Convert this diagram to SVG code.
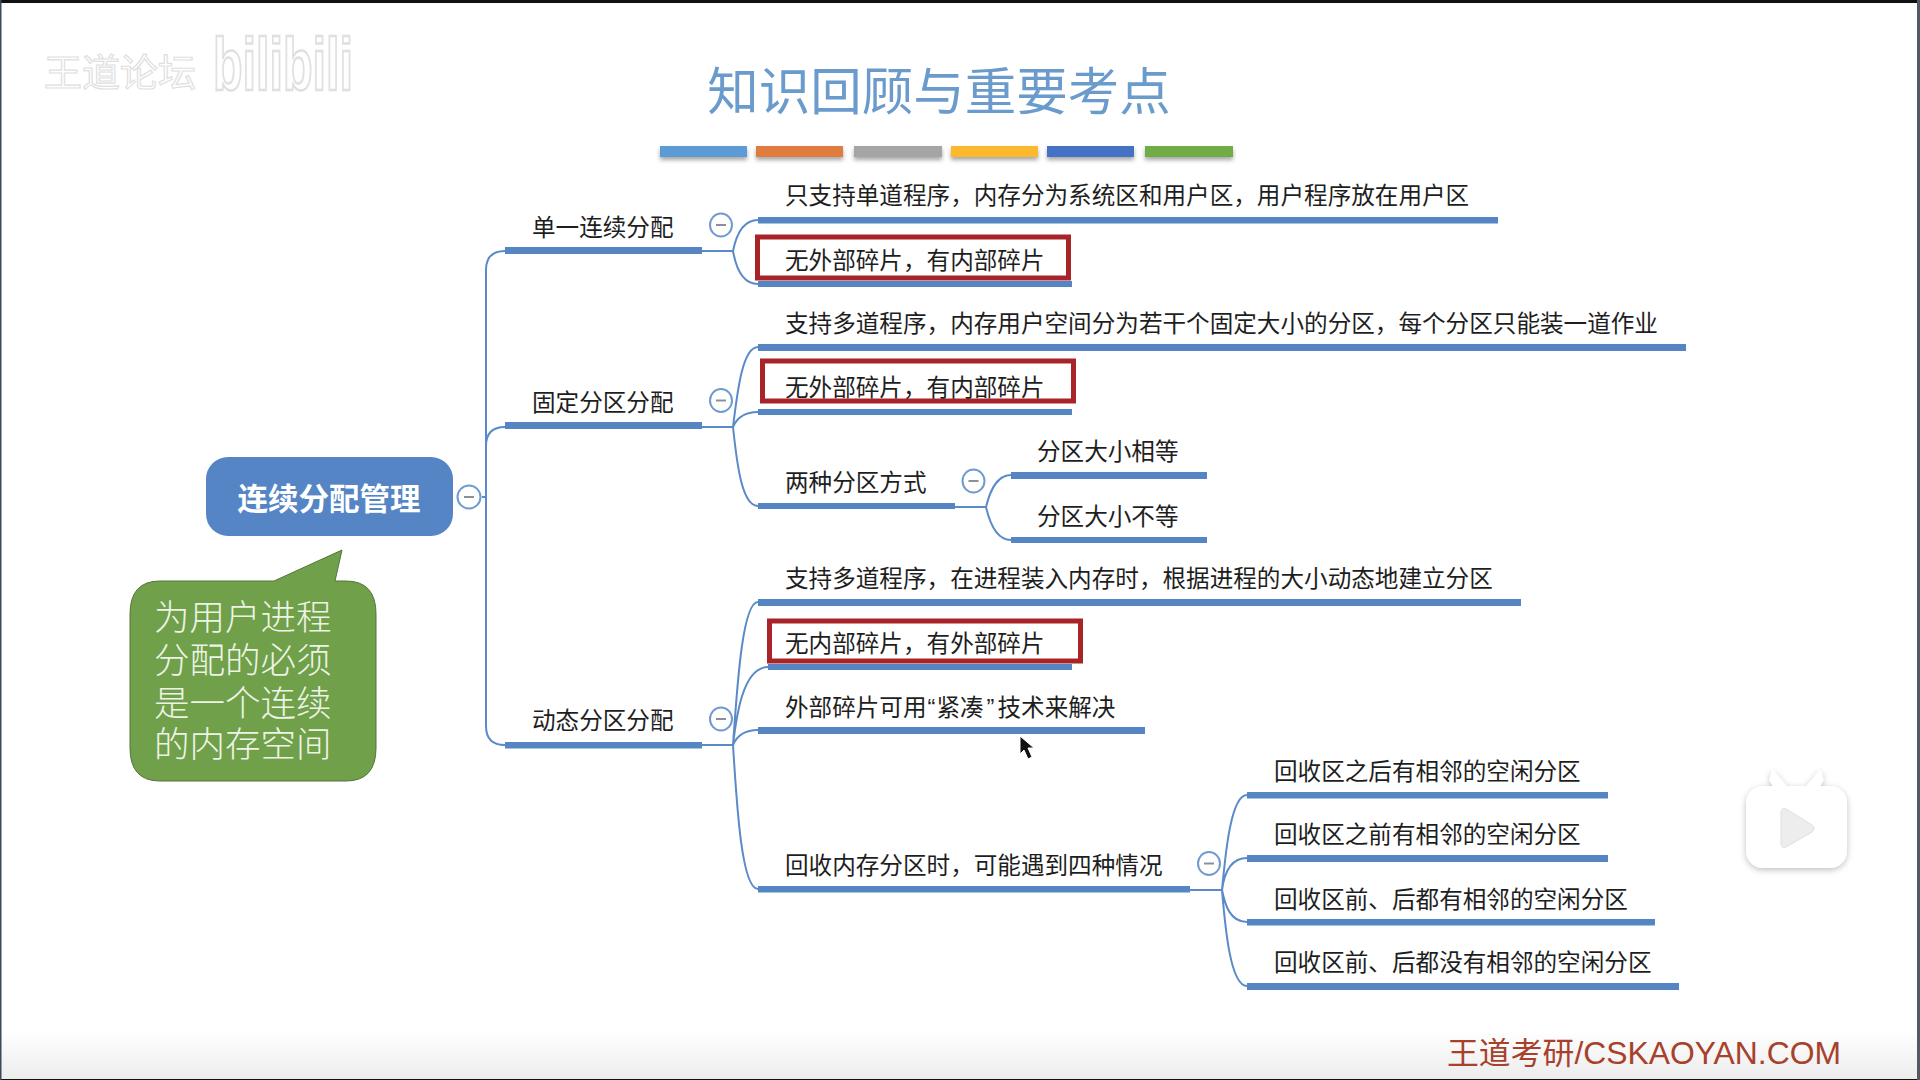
<svg xmlns="http://www.w3.org/2000/svg" width="1920" height="1080" viewBox="0 0 1920 1080">
<style>
text{font-family:"Noto Sans CJK SC","Liberation Sans",sans-serif}
.t{font-size:23.6px;fill:#1e1e1e}
.b{fill:#5585c3}
.l{fill:none;stroke:#5a8bc8;stroke-width:2}
.r{fill:none;stroke:#a82428;stroke-width:5}
.c{fill:#fff;stroke:#6f9bcf;stroke-width:2}
.m{stroke:#8a9099;stroke-width:2}
.q{font-family:"Liberation Sans",sans-serif}
</style>
<defs>
<linearGradient id="foot" x1="0" y1="0" x2="0" y2="1"><stop offset="0" stop-color="#fff"/><stop offset="1" stop-color="#ececec"/></linearGradient>
<filter id="sh" x="-10%" y="-60%" width="120%" height="260%"><feDropShadow dx="0" dy="3" stdDeviation="2" flood-color="#000" flood-opacity=".35"/></filter>
<filter id="logo" x="-20%" y="-30%" width="140%" height="160%"><feDropShadow dx="0" dy="2" stdDeviation="3" flood-color="#000" flood-opacity=".25"/></filter>
</defs>
<rect width="1920" height="1080" fill="#fff"/>
<rect y="1030" width="1920" height="50" fill="url(#foot)"/>
<g id="watermark">
<text x="44" y="86" font-size="38" fill="#fff" stroke="#e0e0e0" stroke-width="1.200">王道论坛</text>
<text transform="translate(213 90) scale(1 1.7)" font-size="44" font-weight="700" fill="#fff" stroke="#e0e0e0" stroke-width="1.500" textLength="140" lengthAdjust="spacingAndGlyphs" style="font-family:'Liberation Sans',sans-serif">bilibili</text>
</g>
<g id="title">
<text x="939" y="110" font-size="51.5" fill="#6a9bcc" text-anchor="middle">知识回顾与重要考点</text>
<g filter="url(#sh)">
<rect x="660" y="146" width="87" height="11" fill="#5b9bd5"/>
<rect x="756" y="146" width="87" height="11" fill="#e07b3c"/>
<rect x="854" y="146" width="88" height="11" fill="#a5a5a5"/>
<rect x="951" y="146" width="87" height="11" fill="#fdb92e"/>
<rect x="1047" y="146" width="87" height="11" fill="#4472c4"/>
<rect x="1145" y="146" width="88" height="11" fill="#70ad47"/>
</g>
</g>
<g id="connectors">
<path class="l" d="M482 497H486M505 251Q486 251 486 270V726Q486 745 505 745M505 427Q486 427 486 446"/>
<path class="l" d="M702 251H733M733 251C736 236 742 220 758 220M733 251C736 268 742 284 758 284"/>
<path class="l" d="M702 427H733M733 427C737 395 742 347 758 347M733 427C736 420 742 412 758 412M733 427C737 465 742 506 758 506"/>
<path class="l" d="M702 745H733M733 745C737 690 742 602 758 602M733 745C736 720 742 667 768 667M733 745C736 738 742 730 758 730M733 745C737 810 742 889 758 889"/>
<path class="l" d="M955 507H986M986 507C989 495 995 475 1011 475M986 507C989 520 995 540 1011 540"/>
<path class="l" d="M1190 890H1222M1222 890C1225 860 1230 795 1247 795M1222 890C1224 875 1230 858 1247 858M1222 890C1225 905 1230 922 1247 922M1222 890C1225 925 1230 986 1247 986"/>
</g>
<g id="root">
<rect x="206" y="457" width="247" height="79" rx="22" fill="#5585c5"/>
<text x="329" y="510" font-size="30.5" font-weight="700" fill="#fff" text-anchor="middle">连续分配管理</text>
<ellipse class="c" cx="469" cy="497" rx="11.5" ry="11.5"/><path class="m" d="M464 497H474"/>
</g>
<g id="callout">
<path d="M160 581H274L342 550L335 581H346Q376 581 376 614V748Q376 781 346 781H160Q130 781 130 748V614Q130 581 160 581Z" fill="#70a04a" stroke="#55743c" stroke-width="1"/>
<text font-size="35.5" fill="#edf4e6" font-weight="300"><tspan x="154" y="630">为用户进程</tspan><tspan x="154" y="673">分配的必须</tspan><tspan x="154" y="716">是一个连续</tspan><tspan x="154" y="757">的内存空间</tspan></text>
</g>
<g id="n1"><text class="t" x="532" y="236">单一连续分配</text><rect class="b" x="505" y="247" width="197" height="7"/><ellipse class="c" cx="721" cy="225" rx="11" ry="11.5"/><path class="m" d="M716 225H726"/></g>
<g id="n1a"><text class="t" x="785" y="204">只支持单道程序，内存分为系统区和用户区，用户程序放在用户区</text><rect class="b" x="758" y="217" width="740" height="6.500"/></g>
<g id="n1b"><rect class="b" x="758" y="281" width="314" height="6"/><rect class="r" x="757.500" y="237" width="311" height="41"/><text class="t" x="785" y="269">无外部碎片，有内部碎片</text></g>
<g id="n2"><text class="t" x="532" y="411">固定分区分配</text><rect class="b" x="505" y="422" width="197" height="7"/><ellipse class="c" cx="721" cy="400.500" rx="11" ry="11.5"/><path class="m" d="M716 400.500H726"/></g>
<g id="n2a"><text class="t" x="785" y="332">支持多道程序，内存用户空间分为若干个固定大小的分区，每个分区只能装一道作业</text><rect class="b" x="758" y="344" width="928" height="7"/></g>
<g id="n2b"><rect class="b" x="758" y="409" width="314" height="6"/><rect class="r" x="762.500" y="361" width="311" height="40"/><text class="t" x="785" y="396">无外部碎片，有内部碎片</text></g>
<g id="n2c"><text class="t" x="785" y="491">两种分区方式</text><rect class="b" x="758" y="503" width="197" height="6"/><ellipse class="c" cx="973.500" cy="481" rx="11" ry="11.5"/><path class="m" d="M968.500 481H978.500"/></g>
<g id="n2c1"><text class="t" x="1037" y="460">分区大小相等</text><rect class="b" x="1011" y="472" width="196" height="7"/></g>
<g id="n2c2"><text class="t" x="1037" y="525">分区大小不等</text><rect class="b" x="1011" y="537" width="196" height="6"/></g>
<g id="n3"><text class="t" x="532" y="729">动态分区分配</text><rect class="b" x="505" y="742" width="197" height="6.500"/><ellipse class="c" cx="721" cy="719" rx="11" ry="11.5"/><path class="m" d="M716 719H726"/></g>
<g id="n3a"><text class="t" x="785" y="587">支持多道程序，在进程装入内存时，根据进程的大小动态地建立分区</text><rect class="b" x="758" y="599" width="763" height="7"/></g>
<g id="n3b"><rect class="b" x="768" y="664" width="304" height="6"/><rect class="r" x="769.500" y="621" width="311" height="40"/><text class="t" x="785" y="652">无内部碎片，有外部碎片</text></g>
<g id="n3c"><text class="t" x="785" y="716">外部碎片可用<tspan class="q" dx="1">“</tspan><tspan dx="1">紧凑</tspan><tspan class="q" dx="3">”</tspan><tspan dx="3">技术来解决</tspan></text><rect class="b" x="758" y="727" width="387" height="7"/></g>
<g id="n3d"><text class="t" x="785" y="874">回收内存分区时，可能遇到四种情况</text><rect class="b" x="758" y="886" width="432" height="6.500"/><ellipse class="c" cx="1209" cy="863.500" rx="11" ry="11.5"/><path class="m" d="M1204 863.500H1214"/></g>
<g id="n3d1"><text class="t" x="1274" y="780">回收区之后有相邻的空闲分区</text><rect class="b" x="1247" y="792" width="361" height="6.500"/></g>
<g id="n3d2"><text class="t" x="1274" y="843">回收区之前有相邻的空闲分区</text><rect class="b" x="1247" y="855" width="361" height="7"/></g>
<g id="n3d3"><text class="t" x="1274" y="907.500">回收区前、后都有相邻的空闲分区</text><rect class="b" x="1247" y="919" width="408" height="6.500"/></g>
<g id="n3d4"><text class="t" x="1274" y="971">回收区前、后都没有相邻的空闲分区</text><rect class="b" x="1247" y="983" width="432" height="7"/></g>
<g id="cursor"><path d="M1020 736V754L1024 750L1028 759L1032 757L1028 748L1034 748Z" fill="#111" stroke="#fff" stroke-width="1"/></g>
<g id="logo">
<g filter="url(#logo)">
<path d="M1773 772L1771 780L1778 792L1788 790ZM1820 772L1822 780L1815 792L1805 790Z" fill="#fff" stroke="#fff" stroke-width="3" stroke-linejoin="round"/>
<rect x="1746" y="786" width="101" height="82" rx="17" fill="#fff"/>
</g>
<path d="M1781 813V843Q1781 850 1788 846L1812 832Q1816 828 1812 825L1788 810Q1781 806 1781 813Z" fill="#ededed" stroke="#e0e0e0"/>
</g>
<text id="brand" x="1447" y="1064" font-size="31" fill="#a8412b" textLength="394" lengthAdjust="spacingAndGlyphs" style="font-family:'Liberation Sans','Noto Sans CJK SC',sans-serif">王道考研/CSKAOYAN.COM</text>
<g id="frame">
<rect width="1920" height="3" fill="#111"/>
<rect y="1079" width="1920" height="1" fill="#111"/>
<rect width="1.500" height="1080" fill="#3d4a5e"/>
<rect x="1917" width="3" height="1080" fill="#555a62"/>
</g>
</svg>
